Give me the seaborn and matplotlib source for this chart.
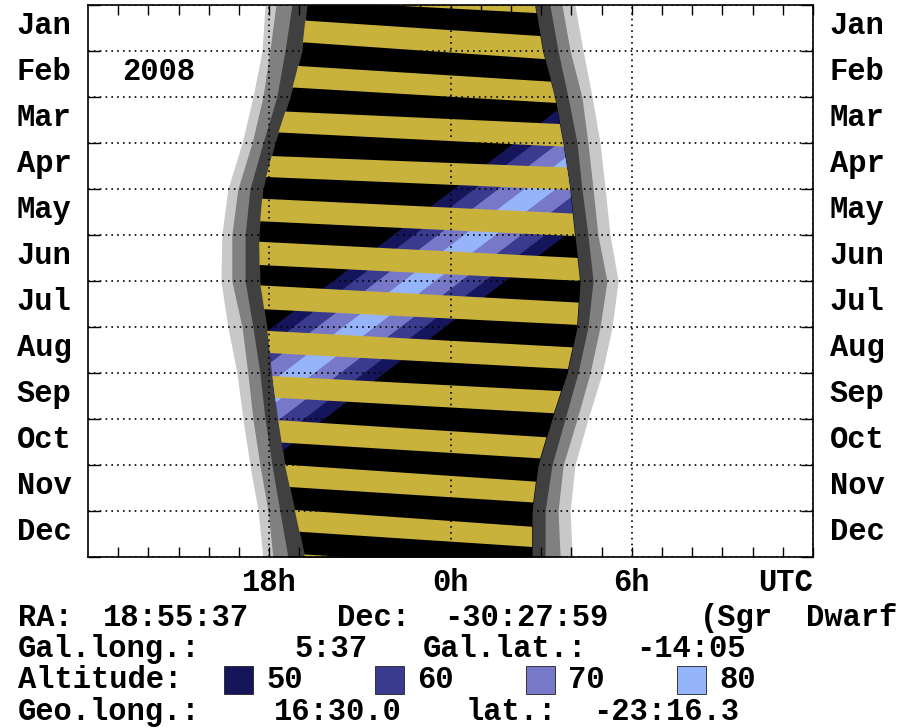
import re
import numpy as np
import matplotlib
matplotlib.use("Agg")
import matplotlib.pyplot as plt
from matplotlib.patches import Rectangle
from matplotlib.ticker import FixedLocator, FixedFormatter, NullFormatter
import seaborn as sns

# ---------------------------------------------------------------- data
MONTHS = ["Jan", "Feb", "Mar", "Apr", "May", "Jun",
          "Jul", "Aug", "Sep", "Oct", "Nov", "Dec"]
YEAR = "2008"
HOUR_TICKS = [-6, 0, 6, 12]
HOUR_LABELS = ["18h", "0h", "6h", "UTC"]

# day of year at which the twilight boundaries are sampled
NIGHT_DAY = [0, 30.5, 61, 91.5, 122, 152.5, 183, 213.5, 244, 274.5, 305, 335.5, 366]
# evening boundaries (hours from 0h UTC): sunset, civil, nautical, astronomical
EVE_SUNSET = [-6.14, -6.24, -6.54, -6.90, -7.37, -7.57, -7.60, -7.37, -7.07, -6.87, -6.64, -6.37, -6.21]
EVE_CIVIL = [-5.78, -5.98, -6.21, -6.57, -7.04, -7.24, -7.24, -6.90, -6.71, -6.54, -6.31, -6.04, -5.88]
EVE_NAUT = [-5.25, -5.48, -5.75, -6.21, -6.64, -6.80, -6.80, -6.54, -6.31, -6.14, -5.91, -5.65, -5.38]
EVE_ASTRO = [-4.75, -4.92, -5.31, -5.81, -6.21, -6.34, -6.31, -6.08, -5.91, -5.71, -5.48, -5.15, -4.82]
# morning boundaries: astronomical, nautical, civil, sunrise
MORN_ASTRO = [2.80, 3.06, 3.46, 3.73, 3.96, 4.12, 4.29, 4.19, 3.86, 3.36, 2.90, 2.70, 2.70]
MORN_NAUT = [3.29, 3.56, 3.89, 4.19, 4.35, 4.55, 4.72, 4.55, 4.22, 3.79, 3.36, 3.13, 3.13]
MORN_CIVIL = [3.69, 3.96, 4.35, 4.55, 4.72, 4.88, 5.18, 4.95, 4.62, 4.19, 3.73, 3.56, 3.63]
MORN_SUNRISE = [4.12, 4.39, 4.69, 4.95, 5.12, 5.28, 5.55, 5.35, 5.02, 4.55, 4.12, 3.96, 4.03]

# moon above the horizon: edges of each band (day of year) at the two hour marks
MOON_H = [-6.5, 4.5]
MOON_TOP_EVE = [-19.9, 8.1, 38.6, 69.7, 99.7, 128.2, 156.8, 185.7, 215.6, 245.4, 274.3, 303.4, 332.9, 362.2]
MOON_TOP_MORN = [-9.9, 22.6, 52.3, 79.7, 108.2, 138.7, 168.0, 197.6, 227.5, 256.9, 288.3, 318.3, 348.5, 376.2]
MOON_BOT_EVE = [-4.6, 22.5, 53.2, 83.7, 113.7, 143.2, 172.2, 201.4, 230.2, 259.6, 289.0, 318.1, 347.3, 375.0]
MOON_BOT_MORN = [7.1, 37.8, 66.1, 94.7, 123.0, 153.6, 183.1, 212.4, 242.0, 271.9, 302.5, 332.1, 361.7, 390.0]

# object transit (UTC hours) and the hour-angle half widths of each altitude band
TRANSIT_DAY = [60, 305]
TRANSIT_UT = [6.99, -9.06]
ALT_LEVELS = [50, 60, 70, 80]
ALT_HALF_WIDTH = [2.85, 2.17, 1.38, 0.52]
ALT_COLORS = ["#15155c", "#3a3a8e", "#7878c8", "#96b4fa"]

TWILIGHT_COLORS = ["#c8c8c8", "#808080", "#404040", "#000000"]
MOON_COLOR = "#c8b23c"

INFO_LINES = [
    "RA: 18:55:37   Dec: -30:27:59   (Sgr Dwarf",
    "Gal.long.:   5:37  Gal.lat.: -14:05",
    "Geo.long.:  16:30.0  lat.: -23:16.3",
]
ALT_TITLE = "Altitude:"

# ---------------------------------------------------------------- style
sns.set_theme(style="white")
plt.rcParams["font.family"] = ["Liberation Mono", "DejaVu Sans Mono"]
plt.rcParams["font.weight"] = "bold"
plt.rcParams["text.color"] = "black"
plt.rcParams["xtick.color"] = "black"
plt.rcParams["ytick.color"] = "black"

W, H = 904, 728
FS = 22
PITCH = 21.3

fig = plt.figure(figsize=(W / 100, H / 100), dpi=100)
fig.patch.set_facecolor("white")
ax = fig.add_axes([88 / W, 1 - 557 / H, (813 - 88) / W, (557 - 5) / H])
ax.set_facecolor("white")
ax.set_xlim(-12, 12)
ax.set_ylim(366, 0)

# ---------------------------------------------------------------- night and twilight
layers = [(EVE_SUNSET, MORN_SUNRISE), (EVE_CIVIL, MORN_CIVIL),
          (EVE_NAUT, MORN_NAUT), (EVE_ASTRO, MORN_ASTRO)]
night = None
for k, ((e, m), c) in enumerate(zip(layers, TWILIGHT_COLORS)):
    night = ax.fill_betweenx(NIGHT_DAY, e, m, color=c, lw=0, zorder=1 + 0.1 * k)
night_path = night.get_paths()[0]

# altitude of the target, only shown during the dark night
tr = np.asarray(TRANSIT_UT)
for hw, c in zip(ALT_HALF_WIDTH, ALT_COLORS):
    band = ax.fill_betweenx(TRANSIT_DAY, tr - hw, tr + hw, color=c, lw=0, zorder=1.5)
    band.set_clip_path(night_path, ax.transData)

# moon above the horizon
for te, tm, be, bm in zip(MOON_TOP_EVE, MOON_TOP_MORN, MOON_BOT_EVE, MOON_BOT_MORN):
    patch, = ax.fill([MOON_H[0], MOON_H[1], MOON_H[1], MOON_H[0]], [te, tm, bm, be],
                     color=MOON_COLOR, lw=0, zorder=1.6)
    patch.set_clip_path(night_path, ax.transData)

# ---------------------------------------------------------------- axes furniture
slot = 366 / 12
ax.xaxis.set_major_locator(FixedLocator(HOUR_TICKS))
ax.xaxis.set_major_formatter(FixedFormatter(HOUR_LABELS))
ax.xaxis.set_minor_locator(FixedLocator(np.arange(-11, 12)))
ax.yaxis.set_major_locator(FixedLocator(np.arange(13) * slot))
ax.yaxis.set_major_formatter(NullFormatter())
ax.yaxis.set_minor_locator(FixedLocator(np.arange(12) * slot + 0.37 * slot))
ax.yaxis.set_minor_formatter(FixedFormatter(MONTHS))

ax.tick_params(axis="x", which="both", direction="in", top=True, bottom=True,
               length=7, width=1, labelsize=FS, pad=8)
ax.tick_params(axis="y", which="major", direction="in", left=True, right=True,
               length=8.5, width=1)
ax.tick_params(axis="y", which="minor", length=0, left=True, right=True,
               labelleft=True, labelright=True, labelsize=FS, pad=12)
for lab in ax.get_xticklabels():
    lab.set_fontweight("bold")
ax.get_xticklabels()[-1].set_horizontalalignment("right")
for lab in ax.get_yticklabels(minor=True):
    lab.set_fontweight("bold")

ax.grid(True, which="major", color="black", lw=1.2, linestyle=(0, (1, 2.5)))
ax.set_axisbelow(False)
for s in ax.spines.values():
    s.set_color("black")
    s.set_linewidth(1.2)
    s.set_zorder(3)

ax.text(0.0466, 0.865, YEAR, transform=ax.transAxes, fontsize=FS,
        fontweight="bold", va="baseline", ha="left")


# ---------------------------------------------------------------- info block
def put_columns(text, x0, baseline):
    """Place each word of a fixed-column line at its column position."""
    for m in re.finditer(r"\S+", text):
        fig.text((x0 + m.start() * PITCH) / W, 1 - baseline / H, m.group(),
                 fontsize=FS, fontweight="bold", ha="left", va="baseline")


put_columns(INFO_LINES[0], 18, 626)
put_columns(INFO_LINES[1], 18, 657)
put_columns(ALT_TITLE, 18, 688)
for k, (lev, c) in enumerate(zip(ALT_LEVELS, ALT_COLORS)):
    x = 224 + 151 * k
    fig.add_artist(Rectangle((x / W, 1 - 694 / H), 29 / W, 28 / H,
                             transform=fig.transFigure, facecolor=c,
                             edgecolor="#202020", lw=0.6))
    fig.text((x + 42) / W, 1 - 688 / H, str(lev), fontsize=FS,
             fontweight="bold", ha="left", va="baseline")
put_columns(INFO_LINES[2], 18, 720)

fig.savefig("out.png", dpi=100, facecolor="white")
